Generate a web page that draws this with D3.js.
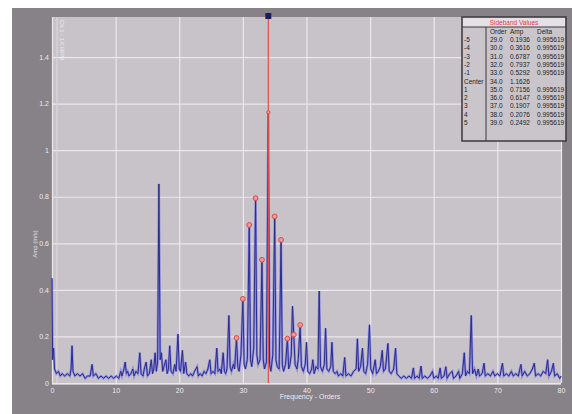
<!DOCTYPE html>
<html>
<head>
<meta charset="utf-8">
<script src="https://d3js.org/d3.v7.min.js"></script>
<style>
  body { margin: 0; background: #ffffff; }
  text { font-family: "Liberation Sans", Arial, sans-serif; }
</style>
</head>
<body>
<div id="chart"></div>
<script>
// spectrum trace, [order, amplitude]
var spectrum = [
  [0, 0.45], [0.1, 0.1], [0.25, 0.15], [0.4, 0.06], [0.7, 0.04], [1.0, 0.05], [1.3, 0.03], [1.6, 0.04],
  [2.0, 0.03], [2.4, 0.04], [2.8, 0.03], [3.0, 0.06], [3.15, 0.16], [3.3, 0.05], [3.6, 0.03], [4.0, 0.04],
  [4.4, 0.03], [4.8, 0.04], [5.2, 0.02], [5.6, 0.03], [6.0, 0.03], [6.3, 0.08], [6.5, 0.03], [6.9, 0.04],
  [7.3, 0.02], [7.7, 0.03], [8.1, 0.02], [8.5, 0.03], [8.9, 0.02], [9.3, 0.03], [9.7, 0.02], [10.1, 0.03],
  [10.5, 0.02], [10.8, 0.05], [11.0, 0.03], [11.3, 0.06], [11.5, 0.09], [11.7, 0.04], [11.9, 0.05], [12.1, 0.03],
  [12.4, 0.04], [12.7, 0.06], [12.9, 0.03], [13.2, 0.05], [13.5, 0.04], [13.8, 0.13], [14.0, 0.04], [14.3, 0.03],
  [14.5, 0.06], [14.8, 0.09], [15.0, 0.03], [15.3, 0.04], [15.6, 0.1], [15.8, 0.04], [16.0, 0.06], [16.2, 0.13],
  [16.4, 0.05], [16.6, 0.09], [16.8, 0.855], [17.0, 0.1], [17.2, 0.13], [17.4, 0.05], [17.6, 0.07], [17.9, 0.1],
  [18.1, 0.04], [18.3, 0.06], [18.5, 0.16], [18.7, 0.05], [19.0, 0.04], [19.3, 0.08], [19.5, 0.05], [19.8, 0.21],
  [20.0, 0.06], [20.2, 0.05], [20.5, 0.14], [20.7, 0.04], [21.0, 0.09], [21.2, 0.04], [21.5, 0.03], [21.8, 0.04],
  [22.1, 0.03], [22.4, 0.05], [22.8, 0.07], [23.0, 0.03], [23.3, 0.04], [23.6, 0.03], [23.9, 0.05], [24.2, 0.04],
  [24.5, 0.06], [24.8, 0.1], [25.0, 0.04], [25.3, 0.05], [25.6, 0.04], [25.9, 0.15], [26.1, 0.05], [26.4, 0.06],
  [26.6, 0.04], [26.9, 0.13], [27.1, 0.05], [27.3, 0.04], [27.5, 0.06], [27.8, 0.29], [28.0, 0.07], [28.2, 0.05],
  [28.5, 0.08], [28.7, 0.06], [29.0, 0.1936], [29.2, 0.07], [29.4, 0.05], [29.7, 0.12], [30.0, 0.3616], [30.2, 0.08],
  [30.4, 0.06], [30.7, 0.1], [31.0, 0.6787], [31.2, 0.1], [31.4, 0.07], [31.7, 0.15], [32.0, 0.7937], [32.2, 0.12],
  [32.4, 0.08], [32.7, 0.1], [33.0, 0.5292], [33.2, 0.1], [33.4, 0.06], [33.7, 0.09], [34.0, 1.1626], [34.2, 0.08],
  [34.4, 0.05], [34.7, 0.12], [35.0, 0.7156], [35.2, 0.1], [35.4, 0.07], [35.7, 0.06], [36.0, 0.6147], [36.2, 0.08],
  [36.4, 0.05], [36.7, 0.08], [37.0, 0.1907], [37.2, 0.06], [37.4, 0.08], [37.6, 0.12], [37.8, 0.33], [38.0, 0.2076],
  [38.2, 0.08], [38.5, 0.06], [38.7, 0.1], [39.0, 0.2492], [39.2, 0.07], [39.5, 0.05], [39.8, 0.08], [40.0, 0.175],
  [40.2, 0.05], [40.5, 0.04], [40.8, 0.06], [41.0, 0.1], [41.2, 0.04], [41.5, 0.07], [41.8, 0.06], [42.0, 0.395],
  [42.2, 0.07], [42.5, 0.05], [42.8, 0.08], [43.0, 0.235], [43.2, 0.06], [43.5, 0.05], [43.8, 0.07], [44.0, 0.175],
  [44.2, 0.05], [44.5, 0.04], [44.8, 0.05], [45.0, 0.03], [45.4, 0.04], [45.7, 0.03], [46.0, 0.11], [46.2, 0.03],
  [46.6, 0.04], [47.0, 0.03], [47.4, 0.05], [47.8, 0.06], [48.0, 0.19], [48.2, 0.05], [48.5, 0.07], [48.8, 0.15],
  [49.0, 0.05], [49.3, 0.04], [49.6, 0.08], [49.9, 0.25], [50.1, 0.06], [50.4, 0.04], [50.8, 0.1], [51.0, 0.04],
  [51.3, 0.05], [51.6, 0.07], [51.9, 0.14], [52.1, 0.05], [52.4, 0.06], [52.8, 0.17], [53.0, 0.05], [53.3, 0.04],
  [53.7, 0.06], [54.0, 0.15], [54.2, 0.04], [54.5, 0.03], [54.9, 0.02], [55.3, 0.03], [55.7, 0.02], [56.1, 0.03],
  [56.5, 0.02], [56.8, 0.065], [57.0, 0.02], [57.4, 0.03], [57.7, 0.02], [58.0, 0.073], [58.2, 0.02], [58.6, 0.03],
  [59.0, 0.02], [59.4, 0.03], [59.8, 0.05], [60.0, 0.02], [60.4, 0.03], [60.7, 0.02], [61.0, 0.065], [61.2, 0.02],
  [61.6, 0.03], [61.9, 0.07], [62.1, 0.02], [62.5, 0.04], [62.9, 0.05], [63.1, 0.02], [63.5, 0.03], [63.9, 0.05],
  [64.1, 0.02], [64.5, 0.04], [64.8, 0.13], [65.0, 0.03], [65.3, 0.05], [65.6, 0.04], [65.9, 0.29], [66.1, 0.04],
  [66.4, 0.06], [66.7, 0.03], [67.0, 0.06], [67.2, 0.03], [67.6, 0.04], [67.9, 0.085], [68.1, 0.03], [68.5, 0.04],
  [68.9, 0.03], [69.3, 0.05], [69.6, 0.03], [70.0, 0.04], [70.4, 0.03], [70.8, 0.085], [71.0, 0.03], [71.4, 0.04],
  [71.8, 0.03], [72.2, 0.05], [72.5, 0.03], [72.9, 0.04], [73.3, 0.03], [73.7, 0.08], [73.9, 0.03], [74.3, 0.05],
  [74.7, 0.03], [75.1, 0.04], [75.5, 0.06], [75.8, 0.085], [76.0, 0.03], [76.4, 0.04], [76.8, 0.03], [77.2, 0.05],
  [77.6, 0.04], [77.9, 0.1], [78.1, 0.03], [78.5, 0.05], [78.8, 0.085], [79.0, 0.03], [79.4, 0.04], [79.8, 0.02],
  [80, 0.03]
];

// sideband table
var sbLabels = ["-5", "-4", "-3", "-2", "-1", "Center", "1", "2", "3", "4", "5"];
var sbOrders = [29.0, 30.0, 31.0, 32.0, 33.0, 34.0, 35.0, 36.0, 37.0, 38.0, 39.0];
var sbAmps = [0.1936, 0.3616, 0.6787, 0.7937, 0.5292, 1.1626, 0.7156, 0.6147, 0.1907, 0.2076, 0.2492];
var sbDeltas = ["0.995619", "0.995619", "0.995619", "0.995619", "0.995619", "", "0.995619", "0.995619", "0.995619", "0.995619", "0.995619"];
var centerOrder = 34.0;

var xTicks = [0, 10, 20, 30, 40, 50, 60, 70, 80];
var yTicks = [0, 0.2, 0.4, 0.6, 0.8, 1, 1.2, 1.4];

var svgWidth = 572;
var svgHeight = 414;

var plot = {left: 52, top: 17, right: 561, bottom: 383};

var svg = d3.select("#chart")
    .append("svg")
    .attr("width", svgWidth)
    .attr("height", svgHeight);

// dark frame + plot background
svg.append("rect")
    .attr("x", 12).attr("y", 8)
    .attr("width", svgWidth - 12).attr("height", svgHeight - 8)
    .attr("fill", "#878188");

svg.append("rect")
    .attr("x", plot.left).attr("y", plot.top)
    .attr("width", plot.right - plot.left).attr("height", plot.bottom - plot.top + 2)
    .attr("fill", "#c7c3c9");

var xScale = d3.scaleLinear()
    .domain([0, 80])
    .range([plot.left, plot.right]);

var yScale = d3.scaleLinear()
    .domain([0, 1.572])
    .range([plot.bottom, plot.top]);

// grid + ticks
var xAxis = svg.append("g")
    .attr("transform", `translate(0, ${plot.bottom})`)
    .call(d3.axisBottom(xScale)
        .tickValues(xTicks)
        .tickSize(-(plot.bottom - plot.top))
        .tickPadding(5)
        .tickFormat(d3.format("d")));

var yAxis = svg.append("g")
    .attr("transform", `translate(${plot.left}, 0)`)
    .call(d3.axisLeft(yScale)
        .tickValues(yTicks)
        .tickSize(-(plot.right - plot.left))
        .tickPadding(3)
        .tickFormat(d => d3.format("~g")(d)));

[xAxis, yAxis].forEach(function(ax) {
    ax.select(".domain").remove();
    ax.selectAll(".tick line")
        .attr("stroke", "#ebe8ec")
        .attr("stroke-width", 1.2);
    ax.selectAll(".tick text")
        .attr("fill", "#eeeaf0")
        .attr("font-size", "7px");
});

// light edge near zero
svg.append("line")
    .attr("x1", plot.left + 5).attr("x2", plot.left + 5)
    .attr("y1", plot.top).attr("y2", plot.bottom)
    .attr("stroke", "#dcd9de")
    .attr("stroke-width", 1);

// spectrum, halo then core
var line = d3.line()
    .x(d => xScale(d[0]))
    .y(d => yScale(d[1]));

svg.append("path")
    .datum(spectrum)
    .attr("fill", "none")
    .attr("stroke", "#6a6ae6")
    .attr("stroke-width", 2.4)
    .attr("stroke-opacity", 0.6)
    .attr("d", line);

svg.append("path")
    .datum(spectrum)
    .attr("fill", "none")
    .attr("stroke", "#2c2c8e")
    .attr("stroke-width", 1)
    .attr("d", line);

// center cursor
svg.append("line")
    .attr("x1", xScale(centerOrder)).attr("x2", xScale(centerOrder))
    .attr("y1", plot.top).attr("y2", plot.bottom)
    .attr("stroke", "#e0504e")
    .attr("stroke-width", 1.2);

svg.append("rect")
    .attr("x", xScale(centerOrder) - 3).attr("y", plot.top - 4)
    .attr("width", 6).attr("height", 6)
    .attr("fill", "#1c1c5a");

// sideband markers
svg.selectAll(".sbMarker")
    .data(sbOrders)
    .enter()
    .append("circle")
    .classed("sbMarker", true)
    .attr("cx", d => xScale(d))
    .attr("cy", (d, i) => yScale(sbAmps[i]))
    .attr("r", d => d === centerOrder ? 1.6 : 2.4)
    .attr("fill", "#ec9a9a")
    .attr("stroke", "#d84a4a")
    .attr("stroke-width", 1);

// axis titles
svg.append("text")
    .attr("x", 310).attr("y", 399)
    .attr("text-anchor", "middle")
    .attr("font-size", "7px")
    .attr("fill", "#eeeaf0")
    .text("Frequency - Orders");

svg.append("text")
    .attr("transform", "translate(37, 244) rotate(-90)")
    .attr("text-anchor", "middle")
    .attr("font-size", "6px")
    .attr("fill", "#e6e2e8")
    .text("Amp (in/s)");

svg.append("text")
    .attr("transform", "translate(60, 20) rotate(90)")
    .attr("font-size", "6px")
    .attr("fill", "#eeeaf0")
    .text("Ch 1 - 1X RPM");

// sideband values table
var tbl = {x: 462, y: 17, w: 104, h: 124};
var table = svg.append("g");

table.append("rect")
    .attr("x", tbl.x).attr("y", tbl.y)
    .attr("width", tbl.w).attr("height", tbl.h)
    .attr("fill", "#c9c5cb")
    .attr("stroke", "#3c3a3e")
    .attr("stroke-width", 1.5);

table.append("rect")
    .attr("x", tbl.x + 1).attr("y", tbl.y + 1)
    .attr("width", tbl.w - 2).attr("height", 9)
    .attr("fill", "#e4e0e6");

table.append("line")
    .attr("x1", tbl.x).attr("x2", tbl.x + tbl.w)
    .attr("y1", tbl.y + 10).attr("y2", tbl.y + 10)
    .attr("stroke", "#3c3a3e");

table.append("line")
    .attr("x1", 486).attr("x2", 486)
    .attr("y1", tbl.y + 10).attr("y2", tbl.y + tbl.h)
    .attr("stroke", "#3c3a3e");

table.append("text")
    .attr("x", tbl.x + tbl.w / 2).attr("y", tbl.y + 8)
    .attr("text-anchor", "middle")
    .attr("font-size", "6.5px")
    .attr("fill", "#e8384a")
    .text("Sideband Values");

var header = [["Order", 490], ["Amp", 510], ["Delta", 537]];
header.forEach(function(h) {
    table.append("text")
        .attr("x", h[1]).attr("y", 34)
        .attr("font-size", "6.5px")
        .attr("fill", "#1e1e1e")
        .text(h[0]);
});

var rowY = d3.scaleLinear()
    .domain([0, sbLabels.length - 1])
    .range([42, 125]);

var rows = table.selectAll(".sbRow")
    .data(sbLabels)
    .enter()
    .append("g")
    .classed("sbRow", true)
    .attr("transform", (d, i) => `translate(0, ${rowY(i)})`);

rows.append("text")
    .attr("x", 464)
    .attr("font-size", "6.5px")
    .attr("fill", "#1e1e1e")
    .text(d => d);

rows.append("text")
    .attr("x", 490)
    .attr("font-size", "6.5px")
    .attr("fill", "#1e1e1e")
    .text((d, i) => sbOrders[i].toFixed(1));

rows.append("text")
    .attr("x", 510)
    .attr("font-size", "6.5px")
    .attr("fill", "#1e1e1e")
    .text((d, i) => sbAmps[i].toFixed(4));

rows.append("text")
    .attr("x", 537)
    .attr("font-size", "6.5px")
    .attr("fill", "#1e1e1e")
    .text((d, i) => sbDeltas[i]);
</script>
</body>
</html>
